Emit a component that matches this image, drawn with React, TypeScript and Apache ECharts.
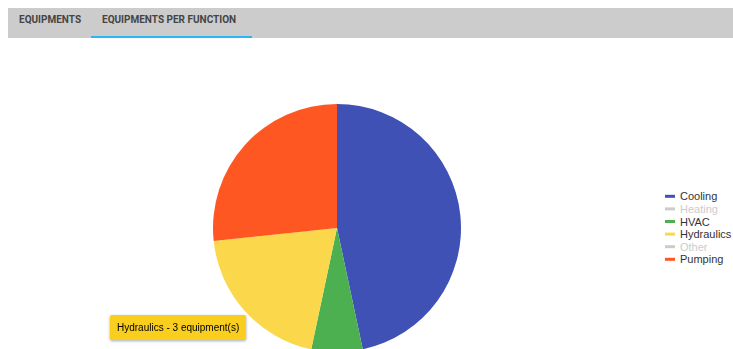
import React, { useEffect, useRef } from "react";
import * as echarts from "echarts";

const categories = ["Cooling", "Heating", "HVAC", "Hydraulics", "Other", "Pumping"];
const counts = [7, 2, 1, 3, 1, 4];
const colors = ["#3F51B5", "#9E9E9E", "#4CAF50", "#FBD84B", "#795548", "#FF5722"];
const hiddenCategories = ["Heating", "Other"];
const tabs = ["EQUIPMENTS", "EQUIPMENTS PER FUNCTION"];
const tooltipIndex = 3;

const FONT = "'Liberation Sans', Arial, sans-serif";

export default function App() {
  const ref = useRef<HTMLDivElement>(null);

  useEffect(() => {
    if (!ref.current) return;
    const chart = echarts.init(ref.current, undefined, { renderer: "svg" });
    const selected: Record<string, boolean> = {};
    categories.forEach((c) => (selected[c] = !hiddenCategories.includes(c)));
    chart.setOption({
      animation: false,
      color: colors,
      textStyle: { fontFamily: FONT },
      legend: {
        orient: "vertical",
        left: 652,
        top: 147,
        itemWidth: 10,
        itemHeight: 3,
        itemGap: 0,
        icon: "rect",
        inactiveColor: "#ccc",
        selected,
        textStyle: { fontSize: 11, color: "#333", lineHeight: 12.6, padding: 0, fontFamily: FONT },
        data: categories,
      },
      tooltip: {
        trigger: "item",
        triggerOn: "none",
        alwaysShowContent: true,
        position: [102, 277],
        backgroundColor: "#F9CE1E",
        borderWidth: 0,
        padding: [6, 7],
        textStyle: { color: "#000", fontSize: 10, lineHeight: 13, fontFamily: FONT },
        extraCssText: "box-shadow: 0 1px 3px rgba(0,0,0,0.35); border-radius: 2px; font-family: 'Liberation Sans', Arial, sans-serif;",
        formatter: (p: any) => `${p.name} - ${p.value} equipment(s)`,
      },
      series: [
        {
          type: "pie",
          center: [329, 190],
          radius: 124,
          startAngle: 90,
          clockwise: true,
          label: { show: false },
          labelLine: { show: false },
          emphasis: { disabled: true },
          data: categories.map((c, i) => ({ name: c, value: counts[i] })),
        },
      ],
    });
    chart.dispatchAction({ type: "showTip", seriesIndex: 0, dataIndex: tooltipIndex });
    return () => chart.dispose();
  }, []);

  return (
    <div style={{ position: "fixed", left: 0, top: 0, width: 733, height: 349, overflow: "hidden", background: "#fff" }}>
      <div
        style={{
          position: "absolute",
          left: 8,
          top: 8,
          width: 725,
          height: 30,
          background: "#CCCCCC",
          fontFamily: "Roboto, Arial, sans-serif",
          fontWeight: 700,
          fontSize: 10,
          color: "#444",
        }}
      >
        <span style={{ position: "absolute", left: 11, top: 6, lineHeight: "12px" }}>{tabs[0]}</span>
        <span style={{ position: "absolute", left: 94, top: 6, lineHeight: "12px" }}>{tabs[1]}</span>
        <div style={{ position: "absolute", left: 83, top: 28, width: 161, height: 2, background: "#29B6F6" }} />
      </div>
      <div ref={ref} style={{ position: "absolute", left: 8, top: 38, width: 725, height: 311 }} />
    </div>
  );
}
